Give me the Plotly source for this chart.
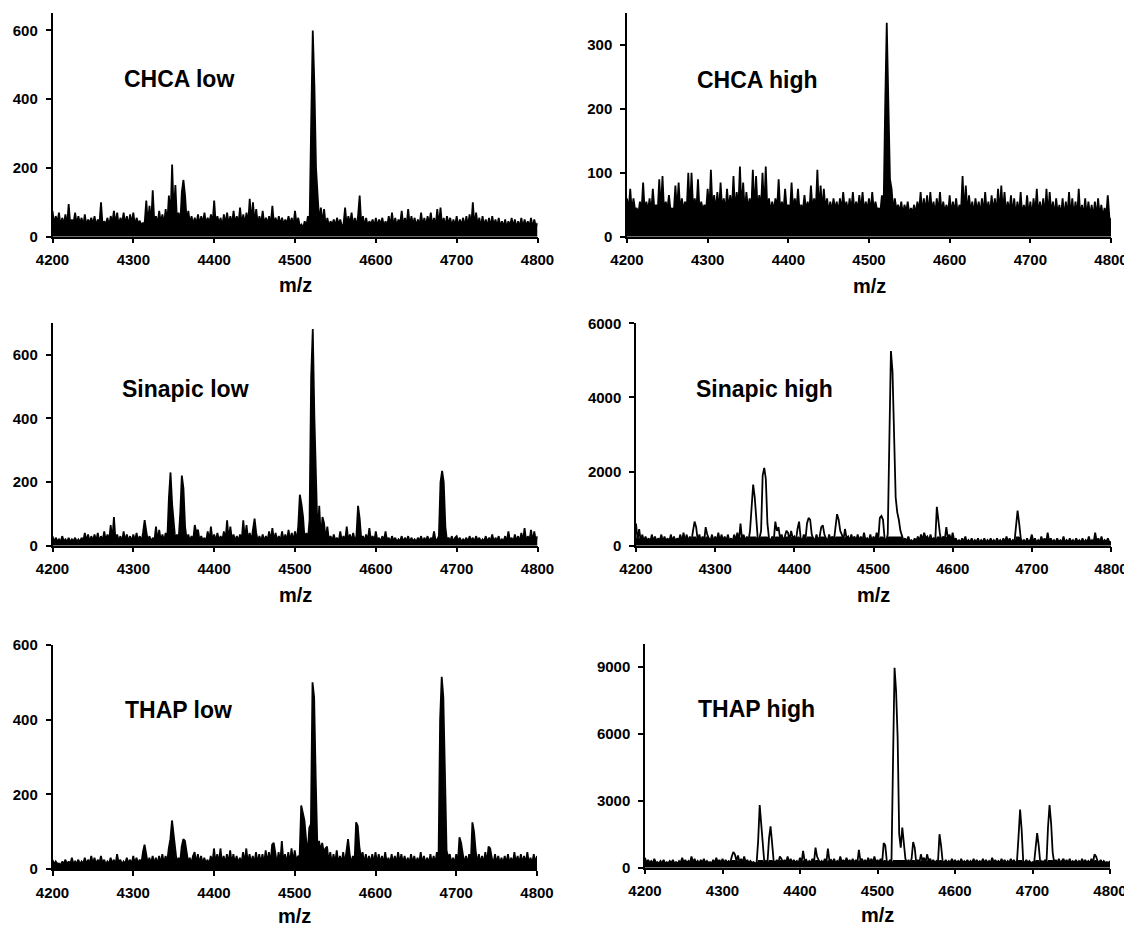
import plotly.graph_objects as go

# ---------------- data (m/z sampled every 2 Da from 4200 to 4800) ----------------
MZ_START, MZ_END, MZ_STEP = 4200, 4800, 2
mz = list(range(MZ_START, MZ_END + 1, MZ_STEP))

chca_low = [
    75, 35, 60, 40, 70, 30, 55, 35, 65, 30,        # 4200
    95, 35, 50, 40, 70, 35, 60, 38, 55, 30,        # 4220
    65, 30, 50, 40, 55, 35, 60, 30, 50, 35,        # 4240
    100, 30, 45, 35, 55, 30, 60, 40, 75, 35,       # 4260
    70, 30, 55, 38, 70, 35, 60, 30, 65, 38,        # 4280
    70, 30, 55, 40, 45, 35, 40, 38, 105, 35,       # 4300
    90, 35, 135, 38, 60, 35, 75, 40, 65, 35,       # 4320
    80, 38, 120, 50, 210, 60, 150, 45, 70, 35,     # 4340
    130, 165, 120, 45, 75, 38, 60, 35, 55, 35,     # 4360
    65, 35, 60, 38, 70, 35, 55, 40, 65, 35,        # 4380
    105, 35, 60, 38, 55, 30, 65, 35, 70, 35,       # 4400
    60, 35, 75, 38, 60, 35, 85, 35, 65, 35,        # 4420
    70, 35, 110, 40, 100, 38, 80, 35, 60, 35,      # 4440
    75, 35, 55, 38, 60, 35, 90, 35, 55, 35,        # 4460
    60, 35, 55, 35, 50, 38, 60, 35, 55, 30,        # 4480
    75, 35, 55, 30, 35, 25, 45, 30, 60, 30,        # 4500
    330, 600, 440, 200, 120, 40, 85, 38, 80, 30,   # 4520
    55, 30, 45, 35, 50, 30, 55, 35, 50, 30,        # 4540
    35, 85, 30, 60, 35, 70, 30, 55, 30, 60,        # 4560
    120, 35, 60, 30, 55, 30, 45, 35, 50, 30,       # 4580
    55, 30, 50, 35, 55, 30, 45, 30, 60, 30,        # 4600
    70, 30, 55, 30, 50, 35, 75, 30, 55, 30,        # 4620
    80, 30, 60, 35, 55, 30, 50, 30, 70, 30,        # 4640
    55, 30, 60, 35, 70, 30, 55, 30, 80, 30,        # 4660
    85, 30, 55, 30, 60, 35, 55, 30, 50, 30,        # 4680
    60, 28, 50, 32, 55, 28, 60, 30, 65, 28,        # 4700
    100, 28, 70, 32, 55, 28, 60, 30, 50, 28,       # 4720
    55, 28, 60, 32, 50, 28, 55, 30, 45, 28,        # 4740
    50, 25, 45, 30, 55, 28, 50, 25, 45, 28,        # 4760
    55, 25, 50, 30, 45, 28, 55, 25, 50, 28,        # 4780
    40,                                            # 4800
]

chca_high = [
    60, 40, 75, 38, 60, 42, 45, 35, 55, 40,        # 4200
    85, 38, 55, 40, 60, 35, 75, 42, 50, 38,        # 4220
    90, 40, 95, 38, 55, 42, 65, 40, 45, 38,        # 4240
    80, 40, 85, 38, 60, 42, 55, 40, 100, 38,       # 4260
    100, 42, 60, 40, 90, 38, 55, 42, 50, 40,       # 4280
    75, 38, 105, 42, 65, 40, 70, 38, 85, 42,       # 4300
    60, 38, 75, 42, 65, 40, 95, 38, 70, 42,        # 4320
    110, 40, 85, 38, 70, 42, 60, 40, 105, 38,      # 4340
    95, 40, 65, 42, 100, 38, 110, 40, 60, 38,      # 4360
    55, 40, 60, 42, 90, 38, 55, 40, 75, 42,        # 4380
    50, 38, 85, 40, 60, 42, 75, 38, 50, 40,        # 4400
    65, 40, 55, 38, 80, 42, 60, 40, 105, 38,       # 4420
    80, 40, 75, 42, 60, 38, 55, 40, 60, 42,        # 4440
    55, 38, 60, 40, 70, 42, 55, 38, 60, 40,        # 4460
    70, 38, 55, 42, 65, 40, 70, 38, 55, 42,        # 4480
    60, 38, 70, 40, 55, 42, 45, 38, 65, 35,        # 4500
    200, 335, 210, 90, 75, 40, 60, 42, 50, 38,     # 4520
    55, 35, 50, 38, 55, 35, 45, 38, 50, 35,        # 4540
    55, 38, 70, 35, 60, 38, 65, 35, 70, 38,        # 4560
    55, 35, 60, 38, 70, 35, 55, 38, 50, 35,        # 4580
    65, 35, 55, 38, 60, 35, 50, 38, 95, 35,        # 4600
    80, 35, 65, 38, 55, 35, 60, 38, 55, 35,        # 4620
    60, 35, 70, 38, 55, 35, 65, 38, 60, 35,        # 4640
    75, 35, 80, 38, 70, 35, 55, 38, 65, 35,        # 4660
    60, 32, 55, 35, 70, 32, 50, 35, 65, 32,        # 4680
    55, 32, 60, 35, 75, 32, 55, 35, 60, 32,        # 4700
    75, 32, 70, 35, 55, 32, 60, 35, 50, 32,        # 4720
    60, 30, 55, 32, 70, 30, 60, 32, 55, 30,        # 4740
    75, 30, 50, 32, 60, 30, 55, 32, 50, 30,        # 4760
    55, 30, 60, 32, 50, 30, 45, 32, 65, 30,        # 4780
    25,                                            # 4800
]

sinapic_low = [
    30, 12, 25, 14, 20, 12, 30, 14, 20, 12,        # 4200
    25, 12, 20, 14, 25, 12, 20, 12, 25, 14,        # 4220
    40, 14, 35, 12, 30, 15, 35, 14, 40, 12,        # 4240
    30, 14, 45, 15, 35, 14, 65, 15, 90, 14,        # 4260
    35, 14, 30, 12, 45, 15, 35, 14, 30, 12,        # 4280
    35, 14, 40, 15, 30, 12, 40, 80, 45, 14,        # 4300
    30, 12, 25, 14, 60, 15, 50, 15, 35, 14,        # 4320
    40, 18, 150, 230, 130, 60, 15, 35, 18, 100,    # 4340
    220, 180, 60, 18, 35, 14, 30, 15, 65, 40,      # 4360
    50, 14, 30, 15, 25, 12, 45, 15, 60, 14,        # 4380
    35, 14, 40, 15, 30, 15, 45, 14, 80, 15,        # 4400
    60, 18, 35, 14, 30, 15, 35, 14, 80, 20,        # 4420
    65, 18, 40, 14, 60, 85, 40, 15, 30, 14,        # 4440
    35, 14, 30, 15, 45, 14, 55, 15, 40, 14,        # 4460
    30, 14, 45, 15, 35, 14, 50, 15, 40, 14,        # 4480
    45, 15, 60, 160, 130, 90, 15, 40, 20, 80,      # 4500
    530, 680, 400, 180, 25, 125, 20, 90, 70, 18,   # 4520
    60, 15, 30, 14, 35, 15, 25, 12, 45, 14,        # 4540
    30, 14, 60, 15, 35, 14, 40, 15, 30, 125,       # 4560
    85, 20, 30, 14, 35, 15, 55, 15, 30, 14,        # 4580
    45, 14, 25, 12, 30, 15, 45, 14, 25, 12,        # 4600
    30, 14, 25, 12, 20, 14, 30, 12, 25, 14,        # 4620
    30, 12, 25, 14, 20, 12, 25, 14, 30, 12,        # 4640
    25, 14, 30, 12, 25, 15, 45, 14, 20, 30,        # 4660
    200, 235, 200, 60, 15, 25, 14, 30, 12, 25,     # 4680
    30, 14, 25, 12, 20, 14, 25, 12, 30, 14,        # 4700
    25, 12, 30, 14, 25, 12, 20, 14, 30, 12,        # 4720
    25, 14, 35, 12, 25, 14, 30, 12, 20, 14,        # 4740
    30, 12, 45, 14, 25, 12, 35, 14, 30, 12,        # 4760
    40, 14, 55, 12, 30, 14, 50, 12, 45, 14,        # 4780
    30,                                            # 4800
]

sinapic_high = [
    600, 150, 450, 120, 300, 110, 250, 130, 200, 110,     # 4200
    300, 120, 250, 110, 200, 130, 300, 110, 250, 120,     # 4220
    200, 110, 300, 120, 250, 110, 200, 130, 300, 110,     # 4240
    350, 120, 300, 110, 250, 110, 400, 650, 500, 130,     # 4260
    300, 120, 250, 110, 500, 300, 200, 120, 300, 110,     # 4280
    250, 120, 350, 110, 300, 130, 250, 110, 300, 120,     # 4300
    200, 110, 300, 130, 350, 120, 600, 150, 300, 110,     # 4320
    250, 120, 400, 1000, 1650, 1300, 800, 130, 200, 400,  # 4340
    1900, 2100, 1800, 600, 200, 120, 250, 130, 650, 400,  # 4360
    500, 200, 300, 130, 250, 400, 350, 150, 400, 200,     # 4380
    250, 130, 450, 650, 200, 120, 300, 150, 600, 750,     # 4400
    700, 300, 200, 120, 300, 130, 250, 500, 550, 300,     # 4420
    200, 120, 300, 150, 250, 130, 500, 850, 700, 400,     # 4440
    300, 150, 450, 200, 250, 130, 300, 150, 250, 120,     # 4460
    300, 130, 250, 120, 350, 150, 200, 130, 300, 120,     # 4480
    250, 130, 350, 150, 750, 800, 700, 200, 130, 300,     # 4500
    2800, 5250, 4700, 3300, 1300, 900, 700, 400, 250, 130,  # 4520
    200, 110, 250, 120, 150, 100, 200, 110, 250, 120,     # 4540
    300, 150, 350, 200, 250, 130, 300, 150, 200, 120,     # 4560
    1050, 700, 300, 130, 250, 150, 500, 200, 300, 120,    # 4580
    350, 120, 200, 100, 150, 90, 200, 100, 250, 90,       # 4600
    150, 90, 200, 80, 150, 100, 200, 80, 150, 90,         # 4620
    200, 80, 150, 100, 200, 90, 150, 80, 200, 100,        # 4640
    150, 80, 200, 90, 250, 100, 200, 80, 150, 90,         # 4660
    500, 950, 600, 200, 100, 150, 80, 200, 90, 150,       # 4680
    300, 100, 200, 80, 150, 90, 250, 100, 200, 80,        # 4700
    350, 100, 200, 90, 150, 80, 200, 100, 150, 90,        # 4720
    250, 80, 150, 100, 200, 90, 150, 80, 200, 100,        # 4740
    150, 90, 200, 80, 150, 100, 250, 90, 150, 80,         # 4760
    350, 100, 200, 90, 250, 80, 150, 100, 200, 90,        # 4780
    100,                                                  # 4800
]

thap_low = [
    25, 12, 20, 14, 15, 10, 20, 14, 25, 12,        # 4200
    20, 12, 30, 12, 20, 14, 25, 12, 20, 14,        # 4220
    30, 12, 25, 14, 35, 14, 30, 12, 25, 14,        # 4240
    35, 14, 25, 12, 20, 14, 30, 14, 25, 12,        # 4260
    40, 14, 25, 12, 20, 14, 30, 14, 25, 12,        # 4280
    35, 14, 30, 14, 25, 14, 45, 65, 40, 14,        # 4300
    30, 14, 35, 14, 30, 12, 35, 14, 40, 14,        # 4320
    35, 18, 55, 80, 130, 90, 40, 15, 30, 18,       # 4340
    60, 80, 75, 50, 18, 30, 14, 35, 45, 15,        # 4360
    40, 14, 35, 14, 30, 14, 25, 12, 35, 14,        # 4380
    55, 15, 40, 14, 55, 15, 35, 14, 40, 14,        # 4400
    50, 14, 40, 15, 35, 14, 30, 14, 45, 15,        # 4420
    55, 14, 40, 15, 35, 14, 45, 14, 40, 15,        # 4440
    40, 14, 50, 15, 45, 14, 65, 70, 40, 14,        # 4460
    45, 15, 75, 18, 40, 14, 45, 15, 55, 18,        # 4480
    50, 20, 35, 30, 170, 150, 130, 80, 40, 110,    # 4500
    120, 500, 460, 240, 60, 75, 50, 70, 45, 55,    # 4520
    60, 18, 45, 14, 40, 15, 50, 14, 35, 15,        # 4540
    45, 14, 50, 80, 40, 14, 35, 15, 125, 115,      # 4560
    60, 30, 45, 14, 40, 15, 35, 14, 40, 15,        # 4580
    45, 14, 40, 15, 35, 14, 45, 15, 30, 14,        # 4600
    40, 15, 35, 14, 45, 15, 40, 14, 35, 15,        # 4620
    30, 14, 40, 15, 35, 14, 30, 15, 45, 14,        # 4640
    35, 15, 30, 14, 40, 15, 35, 14, 45, 15,        # 4660
    400, 515, 460, 200, 50, 30, 40, 15, 30, 14,    # 4680
    40, 15, 85, 70, 45, 14, 35, 15, 40, 14,        # 4700
    125, 100, 50, 14, 40, 15, 35, 14, 45, 15,      # 4720
    60, 55, 30, 14, 40, 15, 35, 14, 30, 15,        # 4740
    35, 14, 40, 15, 30, 14, 45, 15, 35, 14,        # 4760
    40, 15, 35, 14, 45, 15, 30, 14, 40, 15,        # 4780
    35,                                            # 4800
]

thap_high = [
    450, 200, 350, 220, 300, 180, 400, 220, 250, 180,      # 4200
    300, 200, 350, 180, 250, 200, 300, 220, 350, 180,      # 4220
    250, 180, 300, 220, 450, 220, 350, 200, 300, 220,      # 4240
    500, 220, 400, 200, 300, 180, 350, 220, 400, 200,      # 4260
    300, 220, 250, 180, 350, 200, 450, 220, 350, 220,      # 4280
    400, 200, 350, 220, 300, 220, 500, 700, 600, 300,      # 4300
    550, 220, 400, 220, 500, 220, 350, 200, 300, 220,      # 4320
    250, 200, 200, 1200, 2800, 1900, 700, 220, 300, 200,   # 4340
    1300, 1850, 1100, 300, 220, 350, 200, 500, 400, 220,   # 4360
    350, 220, 500, 220, 400, 200, 350, 220, 300, 200,      # 4380
    450, 220, 750, 300, 350, 200, 300, 220, 400, 220,      # 4400
    900, 500, 350, 220, 300, 200, 400, 220, 850, 300,      # 4420
    350, 220, 400, 200, 300, 220, 500, 220, 350, 200,      # 4440
    450, 220, 350, 220, 400, 200, 350, 220, 800, 300,      # 4460
    400, 220, 350, 200, 450, 220, 400, 220, 500, 220,      # 4480
    350, 220, 400, 220, 1100, 1000, 300, 220, 350, 200,    # 4500
    4700, 8950, 7900, 5800, 1500, 900, 1800, 1200, 400, 220,  # 4520
    350, 220, 400, 1150, 900, 220, 350, 200, 600, 300,     # 4540
    450, 220, 600, 300, 400, 220, 350, 200, 300, 220,      # 4560
    1500, 1000, 300, 220, 350, 200, 300, 220, 400, 220,    # 4580
    350, 220, 300, 200, 400, 220, 300, 220, 350, 200,      # 4600
    300, 220, 400, 200, 350, 220, 300, 220, 400, 200,      # 4620
    350, 200, 300, 220, 450, 220, 350, 220, 300, 200,      # 4640
    400, 220, 350, 200, 300, 220, 400, 220, 350, 200,      # 4660
    300, 1400, 2600, 1700, 300, 200, 350, 220, 300, 200,   # 4680
    250, 200, 900, 1550, 1000, 220, 300, 220, 350, 200,    # 4700
    1800, 2800, 2000, 700, 220, 350, 200, 400, 220, 300,   # 4720
    400, 220, 350, 200, 400, 220, 300, 220, 350, 200,      # 4740
    300, 220, 400, 200, 350, 220, 300, 200, 400, 220,      # 4760
    600, 500, 300, 220, 350, 200, 300, 220, 250, 200,      # 4780
    300,                                                   # 4800
]

panel_labels = ["CHCA low", "CHCA high", "Sinapic low", "Sinapic high", "THAP low", "THAP high"]
series = [chca_low, chca_high, sinapic_low, sinapic_high, thap_low, thap_high]
x_ticks = [4200, 4300, 4400, 4500, 4600, 4700, 4800]
y_ticks = [[0, 200, 400, 600], [0, 100, 200, 300], [0, 200, 400, 600],
           [0, 2000, 4000, 6000], [0, 200, 400, 600], [0, 3000, 6000, 9000]]
x_title = "m/z"

for name, s in zip(panel_labels, series):
    assert len(s) == len(mz), f"{name}: {len(s)} != {len(mz)}"

# ---------------- layout geometry ----------------
PAGE_W, PAGE_H, BODY = 1132, 926, 8          # page has an 8 px body margin
W, H = PAGE_W - BODY, PAGE_H - BODY
y_max = [650, 350, 700, 6000, 600, 10000]
# level up to which the dense trace is drawn as a solid area (peaks above stay outlined)
fill_cap = [650, 350, 700, 250, 600, 350]
# target pixel boxes on the page (left, right, top, bottom)
boxes = [(52.5, 537.5, 13.3, 236.7), (627, 1111, 13.3, 236.7),
         (52.5, 537.5, 322.7, 545.7), (636, 1111, 323.3, 545.7),
         (52.5, 537, 645, 869), (645, 1110, 644.3, 867.7)]
label_pos = [(4356, 460), (4362, 246), (4364, 491), (4362, 4219), (4356, 427), (4344, 7082)]
mz_title_y = [285, 286, 595, 595, 916, 915]


def px_x(p):
    return (p - BODY) / W


def px_y(p):
    return (PAGE_H - p) / H


FONT = "Liberation Sans, Arial, sans-serif"
fig = go.Figure()
annotations = []
for i, (s, box) in enumerate(zip(series, boxes)):
    n = "" if i == 0 else str(i + 1)
    l, r, t, b = box
    fig.add_trace(go.Scatter(x=mz, y=[min(v, fill_cap[i]) for v in s], mode="none",
                             fill="tozeroy", fillcolor="black", xaxis="x" + n, yaxis="y" + n,
                             hoverinfo="skip", showlegend=False))
    fig.add_trace(go.Scatter(x=mz, y=s, mode="lines", xaxis="x" + n, yaxis="y" + n,
                             line=dict(color="black", width=1.8), hoverinfo="skip",
                             showlegend=False))
    common = dict(showline=True, linecolor="black", linewidth=1.5, ticks="outside",
                  ticklen=5, tickwidth=1.5, tickcolor="black", showgrid=False,
                  zeroline=False, automargin=False,
                  tickfont=dict(family=FONT, size=15, color="black", weight="bold"))
    fig.layout["xaxis" + n] = dict(domain=[px_x(l), px_x(r)], anchor="y" + n,
                                   range=[MZ_START, MZ_END], tickvals=x_ticks,
                                   ticklabelstandoff=4, **common)
    fig.layout["yaxis" + n] = dict(domain=[px_y(b), px_y(t)], anchor="x" + n,
                                   range=[0, y_max[i]], tickvals=y_ticks[i],
                                   ticklabelstandoff=5, **common)
    annotations.append(dict(x=label_pos[i][0], y=label_pos[i][1], xref="x" + n, yref="y" + n,
                            text=panel_labels[i], showarrow=False, xanchor="center", yanchor="middle",
                            font=dict(family=FONT, size=23, color="black", weight="bold")))
    annotations.append(dict(x=px_x((l + r) / 2), y=px_y(mz_title_y[i]), xref="paper", yref="paper",
                            text=x_title, showarrow=False, xanchor="center", yanchor="middle",
                            font=dict(family=FONT, size=20, color="black", weight="bold")))

fig.update_layout(width=W, height=H, margin=dict(l=0, r=0, t=0, b=0, autoexpand=False),
                  paper_bgcolor="white", plot_bgcolor="white", annotations=annotations,
                  showlegend=False)
fig.write_html("out.html")
